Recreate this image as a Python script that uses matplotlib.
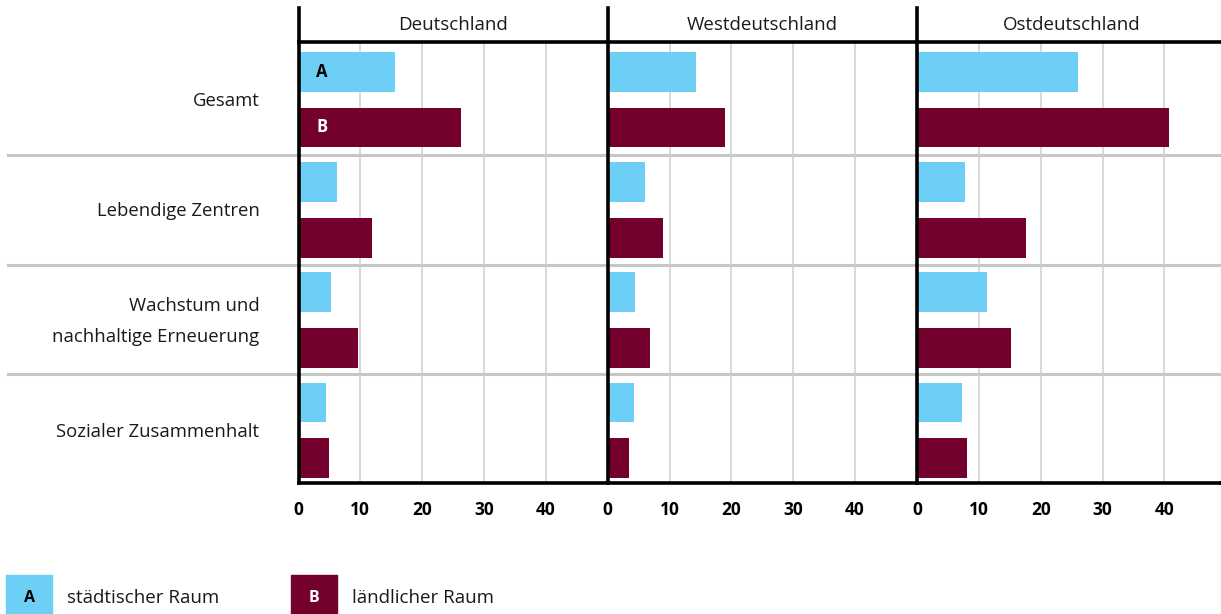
import matplotlib
matplotlib.use("Agg")
import matplotlib.pyplot as plt
from matplotlib.lines import Line2D
from matplotlib.patches import Rectangle

plt.rcParams['font.family'] = ['Open Sans', 'DejaVu Sans']

categories = ['Gesamt', 'Lebendige Zentren', 'Wachstum und\nnachhaltige Erneuerung', 'Sozialer Zusammenhalt']
regions = ['Deutschland', 'Westdeutschland', 'Ostdeutschland']

# A = städtischer Raum, B = ländlicher Raum
staedtisch = {
    'Deutschland':     [15.6, 6.3, 5.2, 4.5],
    'Westdeutschland': [14.2, 6.1, 4.4, 4.2],
    'Ostdeutschland':  [26.0, 7.7, 11.3, 7.3],
}
laendlich = {
    'Deutschland':     [26.3, 11.9, 9.7, 5.0],
    'Westdeutschland': [18.9, 8.9, 6.8, 3.5],
    'Ostdeutschland':  [40.8, 17.7, 15.2, 8.1],
}
ticks = [0, 10, 20, 30, 40]

c_a = '#6DCFF6'
c_b = '#74002E'
grey = '#c6c6c6'

W, H = 1221, 614
fig = plt.figure(figsize=(W / 100, H / 100), dpi=100)

def fx(x):
    return x / W

def fy(y):
    return 1 - y / H

top, bottom = 42, 483
lefts = [298.5, 607.7, 917.0]
pw = 309.2

axes = []
for i, reg in enumerate(regions):
    ax = fig.add_axes([fx(lefts[i]), fy(bottom), pw / W, (bottom - top) / H])
    ax.set_facecolor('none')
    pos = list(range(len(categories)))
    ax.barh([p + 0.27 for p in pos], staedtisch[reg], height=0.36, color=c_a, zorder=3)
    ax.barh([p + 0.775 for p in pos], laendlich[reg], height=0.36, color=c_b, zorder=3)
    ax.set_xlim(0, 50)
    ax.set_ylim(4, 0)
    ax.set_xticks(ticks)
    ax.set_xticklabels([str(t) for t in ticks], fontweight='bold', fontsize=12.5)
    ax.tick_params(axis='x', length=0, pad=13)
    ax.set_yticks([])
    for t in ticks[1:]:
        ax.axvline(t, color='#cfcfcf', lw=1.1, zorder=1)
    for s in ['top', 'right']:
        ax.spines[s].set_visible(False)
    ax.spines['left'].set_linewidth(2.6)
    ax.spines['bottom'].set_linewidth(2.6)
    ax.spines['left'].set_zorder(5)
    ax.spines['bottom'].set_zorder(5)
    axes.append(ax)
    # header
    fig.add_artist(Line2D([fx(lefts[i]), fx(lefts[i])], [fy(8), fy(top)], color='black', lw=2.6))
    fig.text(fx(lefts[i] + pw / 2), fy(25), reg, ha='center', va='center', fontsize=13.5, color='#1a1a1a')

# header line and bottom line to right edge
fig.add_artist(Line2D([fx(lefts[0]), 1], [fy(top), fy(top)], color='black', lw=2.6))
fig.add_artist(Line2D([fx(lefts[2] + pw), 1], [fy(bottom), fy(bottom)], color='black', lw=2.6))

# group separators
for y in [155, 265, 374]:
    fig.add_artist(Line2D([fx(8), 1], [fy(y), fy(y)], color=grey, lw=2.2, zorder=-1))

# category labels
ax0 = axes[0]
for j, cat in enumerate(categories):
    ax0.text(-39 / pw, j + 0.535, cat, transform=ax0.get_yaxis_transform(), ha='right', va='center',
             fontsize=13.3, color='#1a1a1a', linespacing=1.95)

# bar letters
ax0.text(3.8, 0.27, 'A', ha='center', va='center', fontweight='bold', fontsize=12, color='black', zorder=6)
ax0.text(3.8, 0.775, 'B', ha='center', va='center', fontweight='bold', fontsize=12, color='white', zorder=6)

# legend
for x0, col, letter, lc, label in [(6, c_a, 'A', 'black', 'städtischer Raum'),
                                   (291, c_b, 'B', 'white', 'ländlicher Raum')]:
    fig.add_artist(Rectangle((fx(x0), fy(614)), 46 / W, 39 / H, color=col, transform=fig.transFigure))
    fig.text(fx(x0 + 23), fy(598), letter, ha='center', va='center', fontweight='bold', fontsize=11.5, color=lc)
    fig.text(fx(x0 + 61), fy(598), label, ha='left', va='center', fontsize=13.5, color='#1a1a1a')

fig.savefig('out.png', dpi=100)
